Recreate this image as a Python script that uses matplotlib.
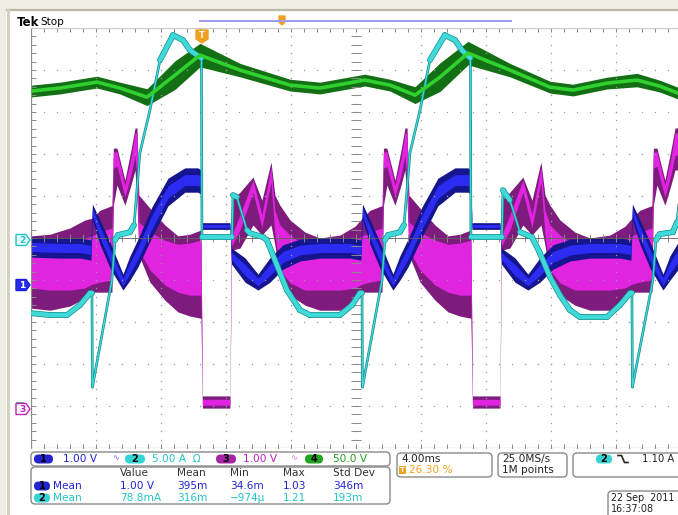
"""Tek scope screenshot: 4 channels, 4 ms/div, with the status bar underneath."""

import matplotlib

matplotlib.use("Agg")

import matplotlib.pyplot as plt
import numpy as np
from matplotlib.collections import LineCollection
from matplotlib.patches import FancyBboxPatch, Polygon, Rectangle

# scope settings (status bar)
TIME_PER_DIV = 4.00  # ms
TRIGGER_POS = 26.30  # % of record
CH1_SCALE, CH2_SCALE, CH3_SCALE, CH4_SCALE = 1.00, 5.00, 1.00, 50.0
# ground markers, divisions from screen centre
CH1_OFFSET, CH2_OFFSET, CH3_OFFSET, CH4_OFFSET = -1.12, -0.05, -4.05, -4.05

# ch4 (green), volts: mean line and noise half-width
ch4_t = [-10.52, -8.74, -6.46, -5.05, -3.38, -1.66, -0.12, 2.34, 5.42, 7.26, 10.03, 11.57,
         13.11, 14.65, 16.37, 18.95, 21.42, 22.83, 24.92, 26.77, 28.18, 29.29, 29.6]
ch4_volts = [377.4, 381.0, 388.1, 381.0, 370.2, 396.4, 420.2, 402.4, 384.5, 381.0, 390.5, 384.5,
             372.6, 394.0, 422.6, 402.4, 382.1, 378.6, 386.9, 390.5, 383.3, 375.0, 372.0]
ch4_spread = [7, 7, 7, 7, 10, 17, 14, 8, 7, 7, 7, 7, 10, 17, 14, 8, 7, 7, 7, 8, 7, 7, 7]

# ch2 (cyan), amps
ch2_t = [-10.52, -9.35, -8.31, -7.51, -6.89, -6.77, -6.74, -5.54, -5.35, -5.17, -4.43, -4.18,
         -4.00, -3.82, -3.20, -2.58, -1.78, -1.17, -0.74, -0.31, -0.03, 0.00, 1.72, 1.85,
         1.91, 2.15, 2.77, 2.95, 3.75, 4.00, 4.49, 5.23, 6.03, 6.65, 8.49, 9.23,
         9.72, 9.85, 9.88, 11.08, 11.26, 11.45, 12.18, 12.43, 12.62, 12.80, 13.42, 14.03,
         14.95, 15.57, 16.00, 16.31, 16.52, 16.55, 18.34, 18.46, 18.52, 18.95, 19.57, 20.31,
         20.80, 21.42, 22.03, 22.65, 23.26, 24.92, 25.72, 26.34, 26.46, 26.49, 27.75, 27.94,
         28.18, 28.98, 29.23, 29.42]
ch2_amps = [-8.69, -8.93, -8.93, -7.74, -6.31, -6.31, -17.50, -4.76, 0.00, 0.60, 0.95, 1.79,
            5.95, 10.36, 15.48, 21.43, 24.40, 23.81, 22.62, 22.02, 21.67, 0.36, 0.36, 0.36,
            5.36, 5.12, 1.19, 0.83, 0.36, 0.00, -2.38, -5.95, -8.33, -8.93, -8.93, -7.74,
            -6.31, -6.31, -17.50, -4.76, 0.00, 0.60, 0.95, 1.79, 5.95, 10.36, 15.48, 21.43,
            24.40, 23.81, 22.62, 22.02, 21.67, 0.36, 0.36, 0.36, 5.95, 4.76, 0.95, 0.36,
            -1.55, -4.40, -6.55, -8.33, -9.17, -9.17, -7.74, -6.31, -6.31, -17.50, -4.76, 0.00,
            0.71, 0.95, 2.14, 5.36]

# ch1 (blue), volts: mean line and noise half-width
ch1_t = [-10.52, -8.74, -7.51, -6.83, -6.74, -6.28, -5.66, -4.86, -4.43, -3.94, -3.08, -2.09,
         -1.05, -0.25, -0.06, 0.03, 1.72, 1.82, 2.65, 3.45, 4.18, 4.98, 6.03, 7.26,
         9.11, 9.78, 9.88, 10.34, 10.95, 11.75, 12.18, 12.68, 13.54, 14.52, 15.57, 16.37,
         16.52, 16.62, 18.34, 18.43, 19.26, 20.06, 20.80, 21.60, 22.65, 23.88, 25.72, 26.40,
         26.49, 26.95, 27.57, 28.37, 28.80, 29.42]
ch1_volts = [0.905, 0.881, 0.881, 0.833, 1.738, 1.262, 0.714, 0.071, 0.405, 0.762, 1.500, 2.214,
             2.500, 2.500, 2.452, 1.405, 1.405, 0.690, 0.357, 0.071, 0.357, 0.667, 0.833, 0.881,
             0.881, 0.833, 1.738, 1.262, 0.714, 0.071, 0.405, 0.762, 1.500, 2.214, 2.500, 2.500,
             2.452, 1.405, 1.405, 0.690, 0.357, 0.071, 0.357, 0.667, 0.833, 0.881, 0.881, 0.833,
             1.738, 1.262, 0.714, 0.071, 0.405, 0.762]
ch1_spread = [0.24, 0.24, 0.24, 0.24, 0.19, 0.29, 0.31, 0.19, 0.29, 0.33, 0.36, 0.33,
              0.29, 0.29, 0.29, 0.08, 0.08, 0.19, 0.29, 0.19, 0.29, 0.29, 0.26, 0.24,
              0.24, 0.24, 0.19, 0.29, 0.31, 0.19, 0.29, 0.33, 0.36, 0.33, 0.29, 0.29,
              0.29, 0.08, 0.08, 0.19, 0.29, 0.19, 0.29, 0.29, 0.26, 0.24, 0.24, 0.24,
              0.19, 0.29, 0.31, 0.19, 0.29, 0.33]
ch1_spike_t = [0.00, 16.55]
ch1_spike_lo = [1.40, 1.40]
ch1_spike_hi = [3.93, 3.93]

# ch3 (magenta), volts: outer (dark) envelope and bright core
ch3_t = [-10.52, -9.35, -8.12, -7.20, -6.77, -6.28, -5.54,
         -5.45, -5.23, -4.74, -4.37, -4.12, -4.00,
         -3.88, -3.20, -2.28, -1.48, -0.74, -0.06, 0.03, 1.72,
         1.82, 2.34, 3.14, 3.69, 4.25, 4.49,
         4.80, 5.42, 6.34, 7.26, 8.49, 9.42, 9.85, 10.34, 11.08,
         11.17, 11.38, 11.88, 12.25, 12.49, 12.62,
         12.74, 13.42, 14.34, 15.14, 15.88, 16.55, 16.65, 18.34,
         18.43, 18.95, 19.75, 20.31, 20.86, 21.11,
         21.42, 22.03, 22.95, 23.88, 25.11, 26.03, 26.46, 26.95, 27.69,
         27.78, 28.00, 28.49, 28.86, 29.11, 29.50]
ch3_env_hi = [4.10, 4.14, 4.29, 4.48, 4.52, 4.71, 4.82,
              6.19, 6.19, 5.43, 6.14, 6.67, 6.67,
              5.07, 4.76, 4.36, 4.10, 4.14, 4.24, 0.29, 0.29,
              4.95, 5.14, 5.50, 4.95, 5.86, 5.07,
              4.83, 4.48, 4.19, 4.05, 4.12, 4.33, 4.52, 4.71, 4.82,
              6.19, 6.19, 5.43, 6.14, 6.67, 6.67,
              5.07, 4.76, 4.36, 4.10, 4.14, 4.24, 0.29, 0.29,
              4.95, 5.14, 5.50, 4.95, 5.86, 5.07,
              4.83, 4.48, 4.19, 4.05, 4.12, 4.33, 4.52, 4.71, 4.82,
              6.19, 6.19, 5.43, 6.14, 6.67, 6.67]
ch3_env_lo = [2.38, 2.33, 2.43, 2.62, 2.76, 2.76, 2.76,
              4.83, 5.31, 4.83, 5.31, 5.67, 4.95,
              3.64, 3.00, 2.57, 2.29, 2.19, 2.14, 0.00, 0.00,
              3.76, 3.81, 4.36, 4.12, 4.36, 3.88,
              3.10, 2.69, 2.45, 2.33, 2.33, 2.52, 2.76, 2.76, 2.76,
              4.83, 5.31, 4.83, 5.31, 5.67, 4.95,
              3.64, 3.00, 2.57, 2.29, 2.19, 2.14, 0.00, 0.00,
              3.76, 3.81, 4.36, 4.12, 4.36, 3.88,
              3.10, 2.69, 2.45, 2.33, 2.33, 2.52, 2.76, 2.76, 2.76,
              4.83, 5.31, 4.83, 5.31, 5.67, 5.67]
ch3_core_hi = [3.81, 3.83, 3.93, 4.05, 4.10, 4.19, 4.29,
               6.10, 6.10, 5.31, 5.95, 6.55, 6.55,
               4.43, 4.19, 4.00, 3.90, 3.93, 4.00, 0.21, 0.21,
               4.10, 4.60, 5.43, 4.60, 5.74, 4.71,
               4.36, 4.12, 3.88, 3.81, 3.83, 4.00, 4.10, 4.19, 4.29,
               6.10, 6.10, 5.31, 5.95, 6.55, 6.55,
               4.43, 4.19, 4.00, 3.90, 3.93, 4.00, 0.21, 0.21,
               4.10, 4.60, 5.43, 4.60, 5.74, 4.71,
               4.36, 4.12, 3.88, 3.81, 3.83, 4.00, 4.10, 4.19, 4.29,
               6.10, 6.10, 5.31, 5.95, 6.55, 6.55]
ch3_core_lo = [2.86, 2.81, 2.81, 2.86, 2.95, 3.00, 3.05,
               5.71, 5.76, 5.02, 5.55, 6.02, 5.43,
               3.76, 3.29, 2.93, 2.76, 2.69, 2.69, 0.07, 0.07,
               3.86, 4.24, 5.14, 4.29, 5.38, 4.12,
               3.29, 2.98, 2.81, 2.81, 2.81, 2.86, 2.95, 3.00, 3.05,
               5.71, 5.76, 5.02, 5.55, 6.02, 5.43,
               3.76, 3.29, 2.93, 2.76, 2.69, 2.69, 0.07, 0.07,
               3.86, 4.24, 5.14, 4.29, 5.38, 4.12,
               3.29, 2.98, 2.81, 2.81, 2.81, 2.86, 2.95, 3.00, 3.05,
               5.71, 5.76, 5.02, 5.55, 6.02, 6.02]

# status bar texts
meas_header = ["Value", "Mean", "Min", "Max", "Std Dev"]
meas_ch1 = ["1.00 V", "395m", "34.6m", "1.03", "346m"]
meas_ch2 = ["78.8mA", "316m", "\u2212974\u00b5", "1.21", "193m"]

C1, C2, C3, C4 = "#2424d8", "#24c4c8", "#c020c0", "#1f9f1f"
ORANGE = "#f0a020"
W, H = 678, 515


def to_div(values, scale, offset):
    return np.asarray(values, dtype=float) / scale + offset


fig = plt.figure(figsize=(W / 100, H / 100), dpi=100)
fig.patch.set_facecolor("white")

t0 = -TRIGGER_POS / 100 * 10 * TIME_PER_DIV
t1 = t0 + 10 * TIME_PER_DIV
scope = fig.add_axes([31 / W, (H - 448) / H, 650 / W, 420 / H])
scope.set_xlim(t0, t1)
scope.set_ylim(-5, 5)
scope.axis("off")

# graticule: dotted lines, border and centre ticks
grid_col = "#9a9a9a"
for k in range(11):
    gx = t0 + k * TIME_PER_DIV
    ys = np.arange(-5, 5.01, 0.2)
    scope.plot(np.full_like(ys, gx), ys, ls="none", marker="s", ms=0.9, color=grid_col, mew=0)
    xs = t0 + np.arange(0, 10.01, 0.2) * TIME_PER_DIV
    scope.plot(xs, np.full_like(xs, k - 5), ls="none", marker="s", ms=0.9, color=grid_col, mew=0)
fine_y = np.arange(-5, 5.01, 0.2)
fine_x = t0 + np.arange(0, 10.01, 0.2) * TIME_PER_DIV
tick_x = 0.08 * TIME_PER_DIV
for gx, lo, hi in [(t0, 0, 1), (t0 + 5 * TIME_PER_DIV, -1, 1)]:
    scope.hlines(fine_y, gx + lo * tick_x, gx + hi * tick_x, color="#8a8a8a", lw=0.7)
for gy, lo, hi in [(-5, 0, 1), (5, -1, 0), (0, -1, 1)]:
    scope.vlines(fine_x, gy + lo * 0.1, gy + hi * 0.1, color="#8a8a8a", lw=0.7)
scope.plot([t0, t0], [-5, 5], color="#8a8a8a", lw=0.9)
scope.plot([t0, t1], [-5, -5], color="#b0b0b0", lw=0.9)
scope.plot([t0, t1], [5, 5], color="#c8c8c8", lw=0.9)
scope.plot([t0, t1], [0, 0], color="#606060", lw=0.6)

# ch3 magenta
m_t = np.asarray(ch3_t)
scope.fill_between(m_t, to_div(ch3_env_lo, CH3_SCALE, CH3_OFFSET),
                   to_div(ch3_env_hi, CH3_SCALE, CH3_OFFSET), color="#7d1c7d", lw=0)
scope.fill_between(m_t, to_div(ch3_core_lo, CH3_SCALE, CH3_OFFSET),
                   to_div(ch3_core_hi, CH3_SCALE, CH3_OFFSET), color="#e024e0", lw=0)

# ch1 blue
b_t = np.asarray(ch1_t)
b_mid = to_div(ch1_volts, CH1_SCALE, CH1_OFFSET)
b_hw = np.asarray(ch1_spread) / CH1_SCALE
scope.fill_between(b_t, b_mid - b_hw, b_mid + b_hw, color="#15158e", lw=0)
scope.fill_between(b_t, b_mid - 0.45 * b_hw, b_mid + 0.45 * b_hw, color="#2b2bf2", lw=0)
scope.vlines(ch1_spike_t, to_div(ch1_spike_lo, CH1_SCALE, CH1_OFFSET),
             to_div(ch1_spike_hi, CH1_SCALE, CH1_OFFSET), color="#2020e0", lw=1.2)

# ch2 cyan: thick where the trace moves slowly, thin on fast edges
c_t = np.asarray(ch2_t)
c_y = to_div(ch2_amps, CH2_SCALE, CH2_OFFSET)
pts = np.column_stack([c_t, c_y])
pix = scope.transData.transform(pts)
dx = np.maximum(np.abs(np.diff(pix[:, 0])), 1e-6)
steep = np.abs(np.diff(pix[:, 1])) / dx
segs = np.stack([pts[:-1], pts[1:]], axis=1)
wide = np.where(steep < 3, 3.2, 0.9)
scope.add_collection(LineCollection(segs, linewidths=wide + 1.0, colors="#148c8c", capstyle="round"))
scope.add_collection(LineCollection(segs, linewidths=wide, colors="#3fd9d9", capstyle="round"))

# ch4 green
g_t = np.asarray(ch4_t)
g_mid = to_div(ch4_volts, CH4_SCALE, CH4_OFFSET)
g_hw = np.asarray(ch4_spread) / CH4_SCALE
scope.fill_between(g_t, g_mid - g_hw, g_mid + g_hw, color="#136f13", lw=0)
scope.plot(g_t, g_mid, color="#30d030", lw=2.6, solid_joinstyle="round")

# ---- overlay in screen pixels ----
ov = fig.add_axes([0, 0, 1, 1], zorder=5)
ov.set_xlim(0, W)
ov.set_ylim(H, 0)
ov.axis("off")
ov.patch.set_alpha(0)

ov.add_patch(Rectangle((0, 0), W, 9, color="#efeee4", lw=0))
ov.add_patch(Rectangle((0, 0), 6, H, color="#efeee4", lw=0))
ov.plot([7, W], [10, 10], color="#bcb8a6", lw=1.6)
ov.plot([7.5, 7.5], [10, H], color="#d6d2c0", lw=2.2)

ov.text(17, 22, "Tek", fontsize=8.5, fontweight="bold", va="center", ha="left")
ov.text(40, 22, "Stop", fontsize=7.5, va="center", ha="left")

# record position bar and trigger markers
ov.plot([200, 511], [21, 21], color="#9c9cf0", lw=1.4)
ov.add_patch(Polygon([(279, 16), (285, 16), (285, 22), (282, 25), (279, 22)], color=ORANGE))
ov.add_patch(Polygon([(196, 30), (208, 30), (208, 39), (202, 43), (196, 39)], color=ORANGE))
ov.text(202, 35.5, "T", color="white", fontsize=6, fontweight="bold", ha="center", va="center")


def marker(y, edge, face, label, txt):
    pts_ = [(16, y - 5.5), (26, y - 5.5), (30, y), (26, y + 5.5), (16, y + 5.5)]
    ov.add_patch(Polygon(pts_, facecolor=face, edgecolor=edge, lw=1.0))
    ov.text(22, y + 0.5, label, color=txt, fontsize=6.5, fontweight="bold", ha="center", va="center")


marker(240, C2, "#e6fbfb", "2", C2)
marker(285, "#1c1ce0", "#2a2ae8", "1", "white")
ov.add_patch(Polygon([(16, 403), (24, 403), (28, 408)], facecolor="none", edgecolor=C4, lw=1.0))
marker(409, C3, "white", "3", C3)


def box(x0, y0, x1, y1):
    ov.add_patch(FancyBboxPatch((x0, y0), x1 - x0, y1 - y0,
                                boxstyle="round,pad=0,rounding_size=4",
                                facecolor="white", edgecolor="#8a8a8a", lw=1.0))


def pill(x0, x1, y, face, label):
    ov.add_patch(FancyBboxPatch((x0, y - 4.5), x1 - x0, 9,
                                boxstyle="round,pad=0,rounding_size=4.5",
                                facecolor=face, edgecolor="none"))
    ov.text((x0 + x1) / 2, y + 0.3, label, fontsize=7, fontweight="bold",
            color="black", ha="center", va="center")


FS = 7.6
box(31, 452, 390, 466)
pill(34, 53, 459, "#2323d0", "1")
ov.text(63, 459, "1.00 V", color=C1, fontsize=FS, va="center")
ov.text(112, 458, "\u223f", color="#6a6ae0", fontsize=6, va="center")
pill(125, 145, 459, "#34d4d4", "2")
ov.text(152, 459, "5.00 A  \u03a9", color=C2, fontsize=FS, va="center")
pill(216, 236, 459, "#a624a6", "3")
ov.text(243, 459, "1.00 V", color=C3, fontsize=FS, va="center")
ov.text(290, 458, "\u223f", color="#d070d0", fontsize=6, va="center")
pill(305, 323, 459, "#22a422", "4")
ov.text(333, 459, "50.0 V", color=C4, fontsize=FS, va="center")

box(31, 467, 390, 504)
cols = [120, 177, 230, 283, 333]
for x, s in zip(cols, meas_header):
    ov.text(x, 473.5, s, color="#333333", fontsize=FS, va="center")
pill(34, 50, 486, "#2323d0", "1")
ov.text(53, 486, "Mean", color=C1, fontsize=FS, va="center")
pill(34, 50, 498, "#34d4d4", "2")
ov.text(53, 498, "Mean", color=C2, fontsize=FS, va="center")
for x, s in zip(cols, meas_ch1):
    ov.text(x, 486, s, color=C1, fontsize=FS, va="center")
for x, s in zip(cols, meas_ch2):
    ov.text(x, 498, s, color=C2, fontsize=FS, va="center")

box(397, 453, 492, 477)
ov.text(401, 459, "4.00ms", color="#222222", fontsize=FS, va="center")
ov.add_patch(Rectangle((399, 466), 7, 8, color=ORANGE, lw=0))
ov.text(402.5, 470.3, "T", color="white", fontsize=5, fontweight="bold", ha="center", va="center")
ov.text(409, 470, "26.30 %", color=ORANGE, fontsize=FS, va="center")

box(498, 453, 567, 477)
ov.text(502, 459, "25.0MS/s", color="#222222", fontsize=FS, va="center")
ov.text(502, 470, "1M points", color="#222222", fontsize=FS, va="center")

box(573, 453, 695, 477)
pill(596, 612, 459, "#34d4d4", "2")
ov.plot([618, 621.5, 624.5, 628], [455.5, 455.5, 462.5, 462.5], color="#222222", lw=1.2)
ov.text(642, 459, "1.10 A", color="#222222", fontsize=7.2, va="center")

box(608, 491, 695, 525)
ov.text(611, 498, "22 Sep  2011", color="#222222", fontsize=6.9, va="center")
ov.text(611, 509, "16:37:08", color="#222222", fontsize=6.9, va="center")

fig.savefig("out.png", dpi=100, facecolor="white")
